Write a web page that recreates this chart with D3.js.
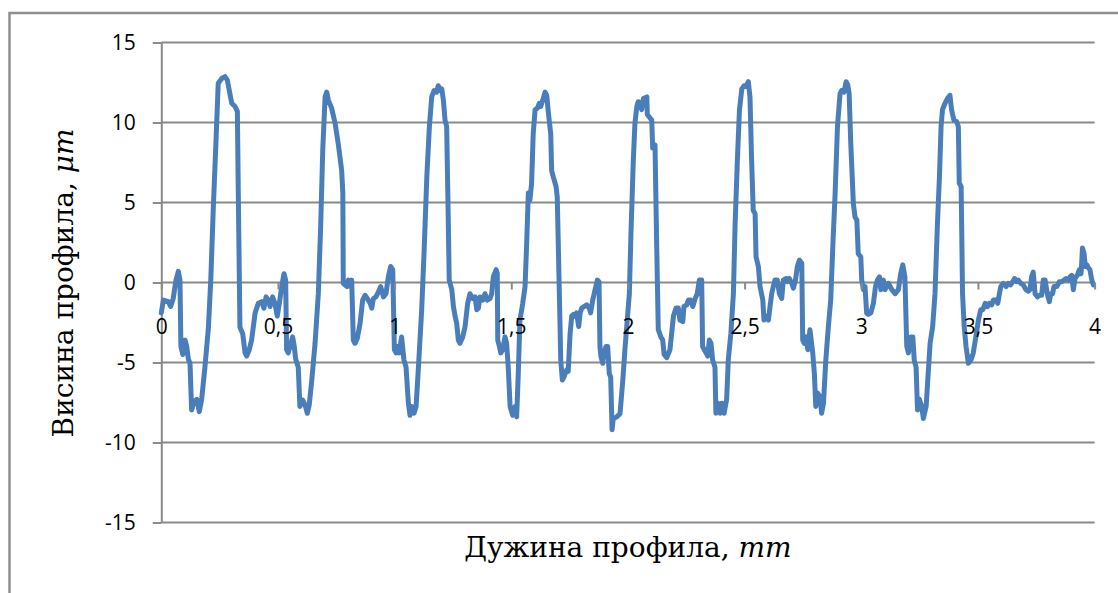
<!DOCTYPE html>
<html>
<head>
<meta charset="utf-8">
<script src="https://cdn.jsdelivr.net/npm/d3@7"></script>
<style>
  body { margin: 0; background: #fff; }
  svg { display: block; }
  .tick text { font-family: "Open Sans", sans-serif; font-size: 21px; fill: #000; }
  .title { font-family: "DejaVu Serif", serif; font-size: 28px; fill: #000; }
</style>
</head>
<body>
<svg id="chart_svg" width="1118" height="593"></svg>
<script>
// profile: [length mm, height µm]
const profileA = [
  [0, -1.9], [0.009, -1.1], [0.03, -1.2], [0.04, -1.5], [0.051, -1.0], [0.063, 0.15], [0.073, 0.7], [0.08, 0.15],
  [0.084, -4.0], [0.092, -4.5], [0.102, -3.6], [0.109, -4.0], [0.116, -4.8], [0.123, -5.05], [0.13, -7.97],
  [0.14, -7.45], [0.152, -7.3], [0.163, -8.07], [0.173, -7.3], [0.187, -5.3], [0.202, -2.8], [0.212, 0.15],
  [0.223, 4.7], [0.234, 8.7], [0.244, 12.45], [0.259, 12.75], [0.273, 12.87], [0.283, 12.65], [0.294, 11.8],
  [0.302, 11.2], [0.316, 11.0], [0.326, 10.7], [0.330, 5.6], [0.337, -2.8], [0.349, -3.2], [0.359, -4.4],
  [0.366, -4.6], [0.377, -4.2], [0.387, -3.6], [0.402, -1.9], [0.416, -1.3], [0.430, -1.2], [0.44, -1.6],
  [0.449, -0.9], [0.459, -1.1], [0.466, -1.5], [0.477, -0.9], [0.487, -1.3], [0.497, -2.1], [0.506, -1.3],
  [0.516, -0.25], [0.526, 0.55], [0.533, 0.15], [0.537, -4.2], [0.544, -4.4], [0.552, -4.0], [0.563, -3.4],
  [0.57, -4.0], [0.576, -4.8], [0.587, -5.3], [0.594, -7.75], [0.606, -7.35], [0.616, -7.65], [0.626, -8.17],
  [0.634, -7.65], [0.645, -6.1], [0.659, -3.8], [0.673, -0.7], [0.683, 3.5], [0.692, 8.3], [0.702, 11.6],
  [0.709, 11.9], [0.716, 11.4], [0.730, 10.9], [0.745, 9.95], [0.759, 8.6], [0.773, 7.0], [0.778, 5.6],
  [0.78, -0.05], [0.795, -0.25], [0.802, 0.15], [0.809, -0.25], [0.816, 0.15], [0.823, -3.6], [0.830, -3.8],
  [0.840, -3.5], [0.852, -2.55], [0.863, -1.1], [0.873, -0.8], [0.883, -1.0], [0.895, -1.3], [0.902, -1.6],
  [0.909, -1.0], [0.920, -0.9], [0.93, -0.6], [0.94, -0.25], [0.952, -0.9], [0.963, -0.7], [0.973, 0.35],
  [0.983, 1.0], [0.992, 0.8], [0.999, -4.2], [1.006, -4.4], [1.012, -4.0], [1.02, -4.4]
];

const profileB = [
  [1.03, -3.4], [1.04, -4.85], [1.049, -5.3], [1.059, -7.55], [1.066, -8.3], [1.073, -7.75], [1.083, -8.17],
  [1.092, -7.75], [1.102, -5.3], [1.116, -1.7], [1.126, 1.8], [1.138, 6.6], [1.149, 9.75], [1.159, 11.6],
  [1.169, 12.0], [1.180, 11.9], [1.187, 12.3], [1.195, 12.0], [1.202, 12.1], [1.209, 11.4], [1.216, 10.15],
  [1.223, 9.75], [1.228, 5.6], [1.234, 0.15], [1.245, -0.45], [1.252, -1.5], [1.259, -2.1], [1.266, -2.55],
  [1.273, -3.6], [1.280, -3.8], [1.292, -3.4], [1.302, -2.75], [1.313, -1.3], [1.323, -0.7], [1.335, -1.0],
  [1.345, -0.9], [1.352, -1.7], [1.359, -1.6], [1.366, -0.9], [1.378, -1.1], [1.387, -0.7], [1.397, -1.1],
  [1.409, -1.0], [1.416, -0.7], [1.423, 0.35], [1.435, 0.8], [1.44, 0.55], [1.442, -3.6], [1.449, -4.0],
  [1.455, -4.4], [1.463, -4.2], [1.473, -3.4], [1.48, -3.8], [1.487, -5.3], [1.495, -7.75], [1.506, -8.3],
  [1.516, -7.75], [1.523, -8.4], [1.53, -5.7], [1.537, -2.35], [1.549, -1.3], [1.559, -0.25], [1.566, 2.45],
  [1.573, 5.6], [1.58, 5.15], [1.587, 6.2], [1.594, 9.3], [1.602, 10.8], [1.612, 10.9], [1.62, 11.2],
  [1.626, 11.0], [1.635, 11.4], [1.645, 11.9], [1.652, 11.7], [1.659, 10.6], [1.669, 9.3], [1.673, 7.0],
  [1.68, 6.6], [1.692, 6.0], [1.697, 5.35], [1.706, -0.7], [1.712, -4.85], [1.719, -6.1], [1.726, -5.9],
  [1.738, -5.45], [1.744, -5.55], [1.752, -3.2], [1.759, -2.1], [1.766, -2.0], [1.773, -2.1], [1.78, -1.9],
  [1.789, -2.75], [1.795, -1.9], [1.802, -1.6], [1.812, -1.5], [1.823, -1.4], [1.834, -1.6], [1.840, -1.9],
  [1.849, -1.1], [1.859, -0.45], [1.869, 0.15], [1.876, 0.05], [1.88, -4.0], [1.884, -4.6], [1.892, -5.05],
  [1.897, -4.4], [1.906, -4.0], [1.913, -4.0], [1.92, -5.7], [1.926, -5.9], [1.932, -9.2], [1.937, -8.5],
  [1.952, -8.4], [1.966, -8.2], [1.978, -6.1], [1.987, -4.2], [1.997, -2.35], [2.006, -0.7], [2.013, 3.1],
  [2.023, 7.65], [2.03, 9.95], [2.038, 11.0], [2.044, 11.3], [2.052, 11.2], [2.059, 10.8]
];

const profileC = [
  [2.066, 11.5], [2.081, 11.6], [2.083, 10.5], [2.102, 10.15], [2.106, 8.4], [2.116, 8.6], [2.123, 2.45],
  [2.13, -2.95], [2.141, -3.4], [2.149, -3.6], [2.155, -4.5], [2.166, -4.7], [2.18, -4.2], [2.195, -2.1],
  [2.206, -1.6], [2.216, -1.6], [2.223, -2.35], [2.235, -2.45], [2.24, -1.5], [2.252, -1.4], [2.259, -1.1],
  [2.269, -1.1], [2.278, -1.5], [2.288, -1.0], [2.297, -0.7], [2.306, 0.15], [2.316, 0.15], [2.32, -4.0],
  [2.327, -4.2], [2.335, -4.4], [2.342, -4.6], [2.349, -3.6], [2.356, -3.8], [2.363, -4.85], [2.373, -5.3],
  [2.377, -8.17], [2.385, -7.55], [2.395, -8.17], [2.402, -7.55], [2.412, -8.17], [2.423, -7.3], [2.430, -4.85],
  [2.441, -3.2], [2.452, -0.7], [2.459, 3.5], [2.469, 7.65], [2.478, 10.8], [2.488, 12.1], [2.498, 12.3],
  [2.506, 12.25], [2.516, 12.55], [2.523, 11.6], [2.53, 7.65], [2.537, 4.5], [2.545, 4.3], [2.549, 1.6],
  [2.559, 1.0], [2.566, -0.25], [2.578, -1.1], [2.583, -2.35], [2.592, -2.1], [2.602, -2.35], [2.609, -1.5],
  [2.616, -0.7], [2.623, -0.25], [2.63, 0.15], [2.64, 0.15], [2.649, -0.7], [2.659, -1.0], [2.666, 0.15],
  [2.678, 0.25], [2.683, 0.05], [2.692, 0.25], [2.702, -0.05], [2.709, -0.35], [2.718, 0.15], [2.726, 1.0],
  [2.735, 1.4], [2.745, 1.2], [2.749, -3.6], [2.756, -3.8], [2.763, -3.4], [2.771, -4.2], [2.78, -2.95],
  [2.792, -4.4], [2.799, -5.7], [2.805, -7.75], [2.812, -6.9], [2.823, -7.15], [2.83, -8.17], [2.838, -7.55],
  [2.848, -4.85], [2.859, -2.75], [2.869, -1.1], [2.878, 2.25], [2.888, 5.6], [2.898, 9.75], [2.909, 11.8],
  [2.916, 12.0], [2.926, 11.9], [2.935, 12.55], [2.942, 12.35], [2.948, 11.8], [2.955, 8.7], [2.966, 4.95],
  [2.973, 4.1], [2.981, 3.9], [2.987, 1.8], [2.998, 1.6], [3.002, 0.15], [3.009, -0.45], [3.016, -0.25],
  [3.023, -1.9], [3.03, -2.0], [3.041, -1.9], [3.052, -1.3], [3.061, -0.25], [3.069, 0.15], [3.078, 0.35],
  [3.084, -0.45]
];

const profileD = [
  [3.095, 0.15], [3.102, -0.45], [3.116, -0.05], [3.131, -0.45], [3.145, -0.7], [3.159, -0.45], [3.169, 0.55],
  [3.178, 1.1], [3.187, 0.35], [3.195, -4.0], [3.202, -4.4], [3.212, -3.4], [3.221, -3.4], [3.227, -4.85],
  [3.235, -5.3], [3.241, -7.97], [3.249, -7.3], [3.259, -7.75], [3.266, -8.5], [3.278, -7.75], [3.285, -6.1],
  [3.295, -3.8], [3.306, -2.75], [3.316, -0.7], [3.326, 3.5], [3.335, 6.6], [3.342, 9.75], [3.348, 10.8],
  [3.359, 11.2], [3.369, 11.5], [3.380, 11.7], [3.387, 10.8], [3.397, 10.15], [3.409, 10.05], [3.416, 9.75],
  [3.42, 6.2], [3.428, 6.0], [3.434, -0.7], [3.441, -2.75], [3.449, -4.0], [3.459, -5.05], [3.47, -4.85],
  [3.48, -4.4], [3.491, -3.4], [3.502, -2.35], [3.512, -1.7], [3.521, -1.7], [3.531, -1.3], [3.541, -1.5],
  [3.549, -1.3], [3.559, -1.4], [3.566, -1.1], [3.578, -1.1], [3.585, -1.3], [3.592, -0.7], [3.598, -0.25],
  [3.609, -0.05], [3.621, -0.25], [3.630, -0.05], [3.64, -0.15], [3.649, 0.05], [3.657, 0.25], [3.666, 0.05],
  [3.673, 0.15], [3.683, -0.05], [3.694, -0.15], [3.706, -0.45], [3.716, -0.55], [3.723, -0.45], [3.73, 0.35],
  [3.737, 0.65], [3.745, -0.7], [3.755, -0.9], [3.763, -0.8], [3.773, -0.8], [3.78, 0.15], [3.788, 0.15],
  [3.797, -0.7], [3.806, -1.2], [3.812, -0.7], [3.82, -0.7], [3.826, -0.25], [3.838, -0.25], [3.849, 0.05],
  [3.859, 0.05], [3.869, 0.15], [3.878, 0.25], [3.888, 0.15], [3.895, 0.35], [3.902, 0.45], [3.909, -0.45],
  [3.916, 0.25], [3.926, 0.45], [3.935, 0.8], [3.942, 0.55], [3.948, 2.15], [3.955, 1.8], [3.96, 1.0],
  [3.967, 1.1], [3.974, 0.9], [3.98, 0.8], [3.988, 0.15], [3.995, -0.15]
];

const xTicks = [0, 0.5, 1, 1.5, 2, 2.5, 3, 3.5, 4];
const yTicks = [-15, -10, -5, 0, 5, 10, 15];
const xTitle = "Дужина профила, ";
const xUnit = "mm";
const yTitle = "Висина профила, ";
const yUnit = "μm";

const profile = profileA.concat(profileB, profileC, profileD);

const plot = { left: 161.3, right: 1094.6, top: 42.5, bottom: 522.5 };
const gridColor = "#8a8a8a";

let svg = d3.select("#chart_svg");

// outer frame (only top and left edges are inside the picture)
svg.append("path")
  .attr("d", "M9.5,600 L9.5,13 L1125,13")
  .attr("fill", "none")
  .attr("stroke", "#8f8f8f")
  .attr("stroke-width", 2.5);

const xScale = d3.scaleLinear().domain([0, 4]).range([plot.left, plot.right]);
const yScale = d3.scaleLinear().domain([-15, 15]).range([plot.bottom, plot.top]);

// horizontal gridlines
svg.append("g")
  .selectAll("line")
  .data(yTicks)
  .join("line")
  .attr("x1", plot.left)
  .attr("x2", plot.right)
  .attr("y1", d => yScale(d))
  .attr("y2", d => yScale(d))
  .attr("stroke", gridColor)
  .attr("stroke-width", 2);

// y axis
let g_y = svg.append("g")
  .attr("transform", "translate(" + plot.left + ",0)")
  .call(d3.axisLeft(yScale).tickValues(yTicks).tickSize(8.5).tickSizeOuter(0).tickPadding(17)
    .tickFormat(d => String(d)));
g_y.select(".domain").attr("stroke", gridColor).attr("stroke-width", 2);
g_y.selectAll(".tick line").attr("stroke", gridColor).attr("stroke-width", 2);

// profile line
const line = d3.line()
  .x(d => xScale(d[0]))
  .y(d => yScale(d[1]));

svg.append("path")
  .datum(profile)
  .attr("d", line)
  .attr("fill", "none")
  .attr("stroke", "#4a7ebb")
  .attr("stroke-width", 5)
  .attr("stroke-linejoin", "round")
  .attr("stroke-linecap", "round");

// x axis through zero, its labels sit on top of the line
let g_x = svg.append("g")
  .attr("transform", "translate(0," + yScale(0) + ")")
  .call(d3.axisBottom(xScale).tickValues(xTicks).tickSize(7).tickSizeOuter(0).tickPadding(30)
    .tickFormat(d => String(d).replace(".", ",")));
g_x.select(".domain").remove();
g_x.selectAll(".tick line").attr("stroke", gridColor).attr("stroke-width", 2);

// axis titles
let x_label = svg.append("text")
  .attr("class", "title")
  .attr("x", (plot.left + plot.right) / 2)
  .attr("y", 557)
  .attr("text-anchor", "middle");
x_label.append("tspan").text(xTitle);
x_label.append("tspan").attr("font-style", "italic").text(xUnit);

let y_label = svg.append("text")
  .attr("class", "title")
  .attr("transform", "translate(73,283) rotate(-90)")
  .attr("text-anchor", "middle");
y_label.append("tspan").text(yTitle);
y_label.append("tspan").attr("font-style", "italic").text(yUnit);
</script>
</body>
</html>
